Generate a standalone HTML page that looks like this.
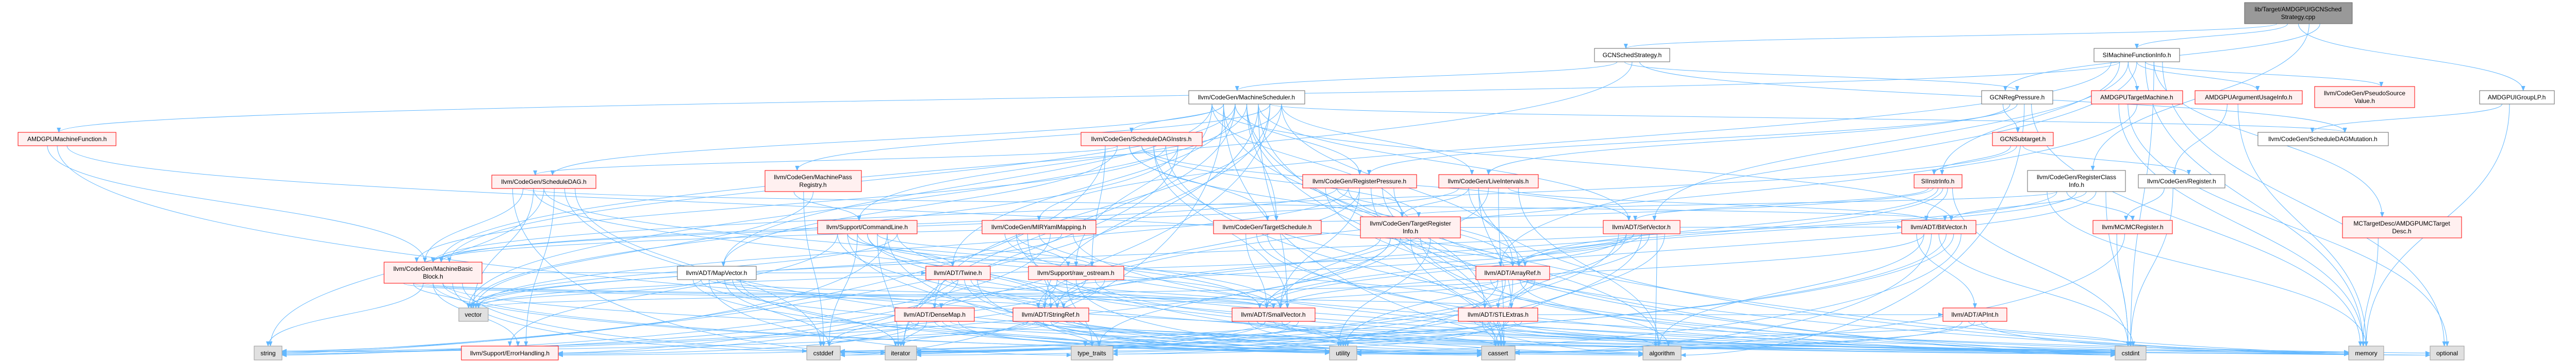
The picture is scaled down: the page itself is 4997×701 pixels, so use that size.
<!DOCTYPE html>
<html><head><meta charset="utf-8">
<style>
html,body{margin:0;padding:0;background:#fff;}
svg{display:block;}
text{font-family:"Liberation Sans",sans-serif;font-size:12px;fill:#000;}
.r rect{fill:#fff0f0;stroke:#ff0000;stroke-width:1;}
.w rect{fill:#fff;stroke:#666;stroke-width:1;}
.g rect{fill:#e0e0e0;stroke:#999;stroke-width:1;}
.d rect{fill:#999;stroke:#666;stroke-width:1;}
</style></head><body>
<svg id="s" width="4997" height="701" xmlns="http://www.w3.org/2000/svg">
<defs><marker id="a" markerWidth="10" markerHeight="8" refX="9" refY="4" orient="auto" markerUnits="userSpaceOnUse"><path d="M0,0 L10,4 L0,8 z" fill="#63b8ff"/></marker></defs>
<g id="edges" fill="none" stroke="#63b8ff" stroke-width="1"></g>
<g id="nodes" text-anchor="middle">
<g class="d" id="top" data-b="4354,5,209,41"><rect x="4354" y="5" width="209" height="41"/><text x="4458" y="22">lib/Target/AMDGPU/GCNSched</text><text x="4458" y="37">Strategy.cpp</text></g>
<g class="w" id="ssh" data-b="3093,94,146,26"><rect x="3093" y="94" width="146" height="26"/><text x="3166" y="111">GCNSchedStrategy.h</text></g>
<g class="w" id="simfi" data-b="4062,94,166,26"><rect x="4062" y="94" width="166" height="26"/><text x="4145" y="111">SIMachineFunctionInfo.h</text></g>
<g class="r" id="amf" data-b="35,257,190,26"><rect x="35" y="257" width="190" height="26"/><text x="130" y="274">AMDGPUMachineFunction.h</text></g>
<g class="w" id="ms" data-b="2306,176,225,26"><rect x="2306" y="176" width="225" height="26"/><text x="2418" y="193">llvm/CodeGen/MachineScheduler.h</text></g>
<g class="w" id="grp" data-b="3844,176,138,26"><rect x="3844" y="176" width="138" height="26"/><text x="3913" y="193">GCNRegPressure.h</text></g>
<g class="r" id="atm" data-b="4057,176,177,26"><rect x="4057" y="176" width="177" height="26"/><text x="4145" y="193">AMDGPUTargetMachine.h</text></g>
<g class="r" id="aau" data-b="4258,176,208,26"><rect x="4258" y="176" width="208" height="26"/><text x="4362" y="193">AMDGPUArgumentUsageInfo.h</text></g>
<g class="r" id="psv" data-b="4490,168,194,41"><rect x="4490" y="168" width="194" height="41"/><text x="4587" y="185">llvm/CodeGen/PseudoSource</text><text x="4587" y="200">Value.h</text></g>
<g class="w" id="iglp" data-b="4810,176,145,26"><rect x="4810" y="176" width="145" height="26"/><text x="4882" y="193">AMDGPUIGroupLP.h</text></g>
<g class="r" id="sdi" data-b="2097,257,235,26"><rect x="2097" y="257" width="235" height="26"/><text x="2214" y="274">llvm/CodeGen/ScheduleDAGInstrs.h</text></g>
<g class="r" id="gst" data-b="3865,257,118,26"><rect x="3865" y="257" width="118" height="26"/><text x="3924" y="274">GCNSubtarget.h</text></g>
<g class="w" id="sdm" data-b="4380,257,253,26"><rect x="4380" y="257" width="253" height="26"/><text x="4506" y="274">llvm/CodeGen/ScheduleDAGMutation.h</text></g>
<g class="r" id="sd" data-b="954,340,202,26"><rect x="954" y="340" width="202" height="26"/><text x="1055" y="357">llvm/CodeGen/ScheduleDAG.h</text></g>
<g class="r" id="mpr" data-b="1484,331,187,41"><rect x="1484" y="331" width="187" height="41"/><text x="1577" y="348">llvm/CodeGen/MachinePass</text><text x="1577" y="363">Registry.h</text></g>
<g class="r" id="rp" data-b="2527,339,221,26"><rect x="2527" y="339" width="221" height="26"/><text x="2637" y="356">llvm/CodeGen/RegisterPressure.h</text></g>
<g class="r" id="li" data-b="2791,339,193,26"><rect x="2791" y="339" width="193" height="26"/><text x="2887" y="356">llvm/CodeGen/LiveIntervals.h</text></g>
<g class="r" id="sii" data-b="3713,339,93,26"><rect x="3713" y="339" width="93" height="26"/><text x="3759" y="356">SIInstrInfo.h</text></g>
<g class="w" id="rci" data-b="3933,331,190,41"><rect x="3933" y="331" width="190" height="41"/><text x="4028" y="348">llvm/CodeGen/RegisterClass</text><text x="4028" y="363">Info.h</text></g>
<g class="w" id="reg" data-b="4148,339,168,26"><rect x="4148" y="339" width="168" height="26"/><text x="4232" y="356">llvm/CodeGen/Register.h</text></g>
<g class="r" id="mbb" data-b="745,509,190,41"><rect x="745" y="509" width="190" height="41"/><text x="840" y="526">llvm/CodeGen/MachineBasic</text><text x="840" y="541">Block.h</text></g>
<g class="r" id="cl" data-b="1586,428,193,26"><rect x="1586" y="428" width="193" height="26"/><text x="1682" y="445">llvm/Support/CommandLine.h</text></g>
<g class="r" id="mir" data-b="1905,428,221,26"><rect x="1905" y="428" width="221" height="26"/><text x="2015" y="445">llvm/CodeGen/MIRYamlMapping.h</text></g>
<g class="r" id="ts" data-b="2354,428,209,26"><rect x="2354" y="428" width="209" height="26"/><text x="2458" y="445">llvm/CodeGen/TargetSchedule.h</text></g>
<g class="r" id="tri" data-b="2639,421,194,41"><rect x="2639" y="421" width="194" height="41"/><text x="2736" y="438">llvm/CodeGen/TargetRegister</text><text x="2736" y="453">Info.h</text></g>
<g class="r" id="sv" data-b="3110,428,149,26"><rect x="3110" y="428" width="149" height="26"/><text x="3184" y="445">llvm/ADT/SetVector.h</text></g>
<g class="r" id="bv" data-b="3689,428,144,26"><rect x="3689" y="428" width="144" height="26"/><text x="3761" y="445">llvm/ADT/BitVector.h</text></g>
<g class="r" id="mcr" data-b="4060,428,154,26"><rect x="4060" y="428" width="154" height="26"/><text x="4137" y="445">llvm/MC/MCRegister.h</text></g>
<g class="r" id="mctd" data-b="4544,421,231,41"><rect x="4544" y="421" width="231" height="41"/><text x="4659" y="438">MCTargetDesc/AMDGPUMCTarget</text><text x="4659" y="453">Desc.h</text></g>
<g class="w" id="mv" data-b="1314,517,153,26"><rect x="1314" y="517" width="153" height="26"/><text x="1390" y="534">llvm/ADT/MapVector.h</text></g>
<g class="r" id="tw" data-b="1796,517,125,26"><rect x="1796" y="517" width="125" height="26"/><text x="1858" y="534">llvm/ADT/Twine.h</text></g>
<g class="r" id="ro" data-b="1995,517,185,26"><rect x="1995" y="517" width="185" height="26"/><text x="2087" y="534">llvm/Support/raw_ostream.h</text></g>
<g class="r" id="ar" data-b="2863,517,143,26"><rect x="2863" y="517" width="143" height="26"/><text x="2934" y="534">llvm/ADT/ArrayRef.h</text></g>
<g class="g" id="vec" data-b="890,598,57,26"><rect x="890" y="598" width="57" height="26"/><text x="918" y="615">vector</text></g>
<g class="r" id="dm" data-b="1736,598,154,26"><rect x="1736" y="598" width="154" height="26"/><text x="1813" y="615">llvm/ADT/DenseMap.h</text></g>
<g class="r" id="sr" data-b="1965,598,147,26"><rect x="1965" y="598" width="147" height="26"/><text x="2038" y="615">llvm/ADT/StringRef.h</text></g>
<g class="r" id="smv" data-b="2390,598,161,26"><rect x="2390" y="598" width="161" height="26"/><text x="2470" y="615">llvm/ADT/SmallVector.h</text></g>
<g class="r" id="stl" data-b="2829,598,154,26"><rect x="2829" y="598" width="154" height="26"/><text x="2906" y="615">llvm/ADT/STLExtras.h</text></g>
<g class="r" id="api" data-b="3769,598,124,26"><rect x="3769" y="598" width="124" height="26"/><text x="3831" y="615">llvm/ADT/APInt.h</text></g>
<g class="g" id="str" data-b="493,672,54,27"><rect x="493" y="672" width="54" height="27"/><text x="520" y="690">string</text></g>
<g class="r" id="eh" data-b="895,672,188,27"><rect x="895" y="672" width="188" height="27"/><text x="989" y="690">llvm/Support/ErrorHandling.h</text></g>
<g class="g" id="cdf" data-b="1565,672,65,27"><rect x="1565" y="672" width="65" height="27"/><text x="1597" y="690">cstddef</text></g>
<g class="g" id="it" data-b="1717,672,61,27"><rect x="1717" y="672" width="61" height="27"/><text x="1747" y="690">iterator</text></g>
<g class="g" id="tt" data-b="2078,672,81,27"><rect x="2078" y="672" width="81" height="27"/><text x="2118" y="690">type_traits</text></g>
<g class="g" id="ut" data-b="2579,672,53,27"><rect x="2579" y="672" width="53" height="27"/><text x="2605" y="690">utility</text></g>
<g class="g" id="ca" data-b="2874,672,65,27"><rect x="2874" y="672" width="65" height="27"/><text x="2906" y="690">cassert</text></g>
<g class="g" id="alg" data-b="3187,672,74,27"><rect x="3187" y="672" width="74" height="27"/><text x="3224" y="690">algorithm</text></g>
<g class="g" id="ci" data-b="4103,672,60,27"><rect x="4103" y="672" width="60" height="27"/><text x="4133" y="690">cstdint</text></g>
<g class="g" id="mem" data-b="4556,672,68,27"><rect x="4556" y="672" width="68" height="27"/><text x="4590" y="690">memory</text></g>
<g class="g" id="opt" data-b="4714,672,66,27"><rect x="4714" y="672" width="66" height="27"/><text x="4747" y="690">optional</text></g>
</g>
</svg>
<script>
(function(){
var E="top>ssh top>simfi top>iglp top>rci top>grp ssh>ms ssh>grp ssh>mbb ssh>sdm simfi>amf simfi>atm simfi>aau simfi>psv simfi>mctd simfi>opt simfi>mir simfi>sii simfi>sv simfi>ar simfi>mem simfi>ci "+
"grp>gst grp>li grp>rp grp>alg grp>mem gst>sii gst>mbb gst>reg atm>mem atm>opt atm>sr aau>reg aau>mem iglp>sdm iglp>mem amf>mbb amf>ci amf>ar "+
"ms>sdi ms>rp ms>ts ms>smv ms>mpr ms>cl ms>ro ms>sd ms>mbb ms>vec ms>str ms>eh ms>ar ms>bv ms>stl ms>tw ms>mem ms>ca ms>sdm ms>li ms>tri ms>alg ms>it ms>ci ms>sv ms>sr ms>dm ms>mv ms>cdf "+
"sdi>sd sdi>ts sdi>tri sdi>smv sdi>mbb sdi>vec sdi>str sdi>mv sdi>ar sdi>sv sdi>ca sdi>ci sdi>it sdi>ro "+
"sd>mbb sd>vec sd>str sd>eh sd>ca sd>cdf sd>it sd>bv sd>sr sd>smv mpr>cl mpr>cdf mpr>vec "+
"rp>tri rp>ar rp>smv rp>ca rp>ci rp>alg rp>mem rp>mbb rp>vec rp>sr li>tri li>ar li>smv li>ca li>bv li>alg li>mbb li>mem li>stl "+
"sii>sv sii>mbb sii>ar sii>sr sii>bv sii>ci rci>tri rci>mcr rci>ar rci>bv rci>smv rci>ci rci>mem rci>vec reg>mcr reg>ci mcr>ci mcr>ca "+
"mbb>vec mbb>str mbb>eh mbb>ca mbb>cdf mbb>it mbb>sr mbb>smv mbb>stl mbb>ut mbb>mem mbb>tw "+
"cl>tw cl>smv cl>sr cl>ro cl>str cl>vec cl>eh cl>ca cl>cdf cl>ci cl>it cl>ut cl>mem cl>tt cl>stl "+
"mir>ro mir>sr mir>smv mir>str mir>vec mir>ci mir>opt mir>alg ts>smv ts>ca ts>ci "+
"tri>smv tri>ar tri>ca tri>ci tri>ut tri>bv tri>sr tri>str tri>tt "+
"sv>smv sv>ar sv>dm sv>stl sv>alg sv>ca sv>it sv>ut sv>vec sv>tt bv>alg bv>ca bv>ci bv>cdf bv>it bv>ut bv>api bv>smv mctd>mem "+
"mv>vec mv>smv mv>dm mv>cdf mv>it mv>ut mv>ca mv>ci mv>tt tw>smv tw>sr tw>str tw>ca tw>ci tw>ut tw>eh "+
"ro>sr ro>tt ro>ca ro>cdf ro>ci ro>str ro>ut ro>smv ar>smv ar>stl ar>ca ar>alg ar>cdf ar>it ar>mem ar>tt ar>vec "+
"dm>cdf dm>it dm>ca dm>alg dm>ci dm>ut dm>tt dm>eh sr>str sr>tt sr>ca sr>cdf sr>ci sr>ut sr>it sr>alg "+
"smv>ca smv>cdf smv>ci smv>ut smv>tt smv>it smv>alg smv>mem smv>eh stl>ca stl>ut stl>tt stl>it stl>alg stl>cdf stl>ci stl>mem stl>opt stl>api "+
"api>ca api>ci api>ut api>opt api>alg";
function B(id){var a=document.getElementById(id).getAttribute("data-b").split(",").map(Number);return {x:a[0],y:a[1],w:a[2],h:a[3]};}
var g=document.getElementById("edges"),ns="http://www.w3.org/2000/svg",cnt={};
E.split(/\s+/).forEach(function(e){if(!e)return;var p=e.split(">"),s=B(p[0]),t=B(p[1]);
 cnt[p[0]]=(cnt[p[0]]||0)+1;var k=cnt[p[0]];
 var sx=s.x+s.w/2+((k%7)-3)*s.w/10,sy=s.y+s.h;
 var tx,ty,d;var tcx=t.x+t.w/2;
 if(Math.abs(tcx-sx)>700 && t.y>=600){
   ty=t.y+t.h/2+((k%5)-2)*2; tx=(tcx>sx)?t.x:t.x+t.w;
   var mx=(sx+tx)/2;
   d="M"+sx+","+sy+" C"+sx+","+(sy+(ty-sy)*0.8)+" "+(tx+(tx>sx?-200:200))+","+ty+" "+tx+","+ty;
 } else {
   tx=tcx+((k%5)-2)*t.w/12; ty=t.y;
   if(ty<=sy){sy=s.y+s.h/2;sx=(tcx>s.x+s.w/2)?s.x+s.w:s.x;ty=t.y+t.h/2;tx=(tcx>sx)?t.x:t.x+t.w;
     d="M"+sx+","+sy+" C"+(sx+tx)/2+","+sy+" "+(sx+tx)/2+","+ty+" "+tx+","+ty;}
   else{var my=(sy+ty)/2;d="M"+sx+","+sy+" C"+sx+","+my+" "+tx+","+my+" "+tx+","+ty;}
 }
 var path=document.createElementNS(ns,"path");path.setAttribute("d",d);path.setAttribute("marker-end","url(#a)");g.appendChild(path);
});
})();
</script>
</body></html>
